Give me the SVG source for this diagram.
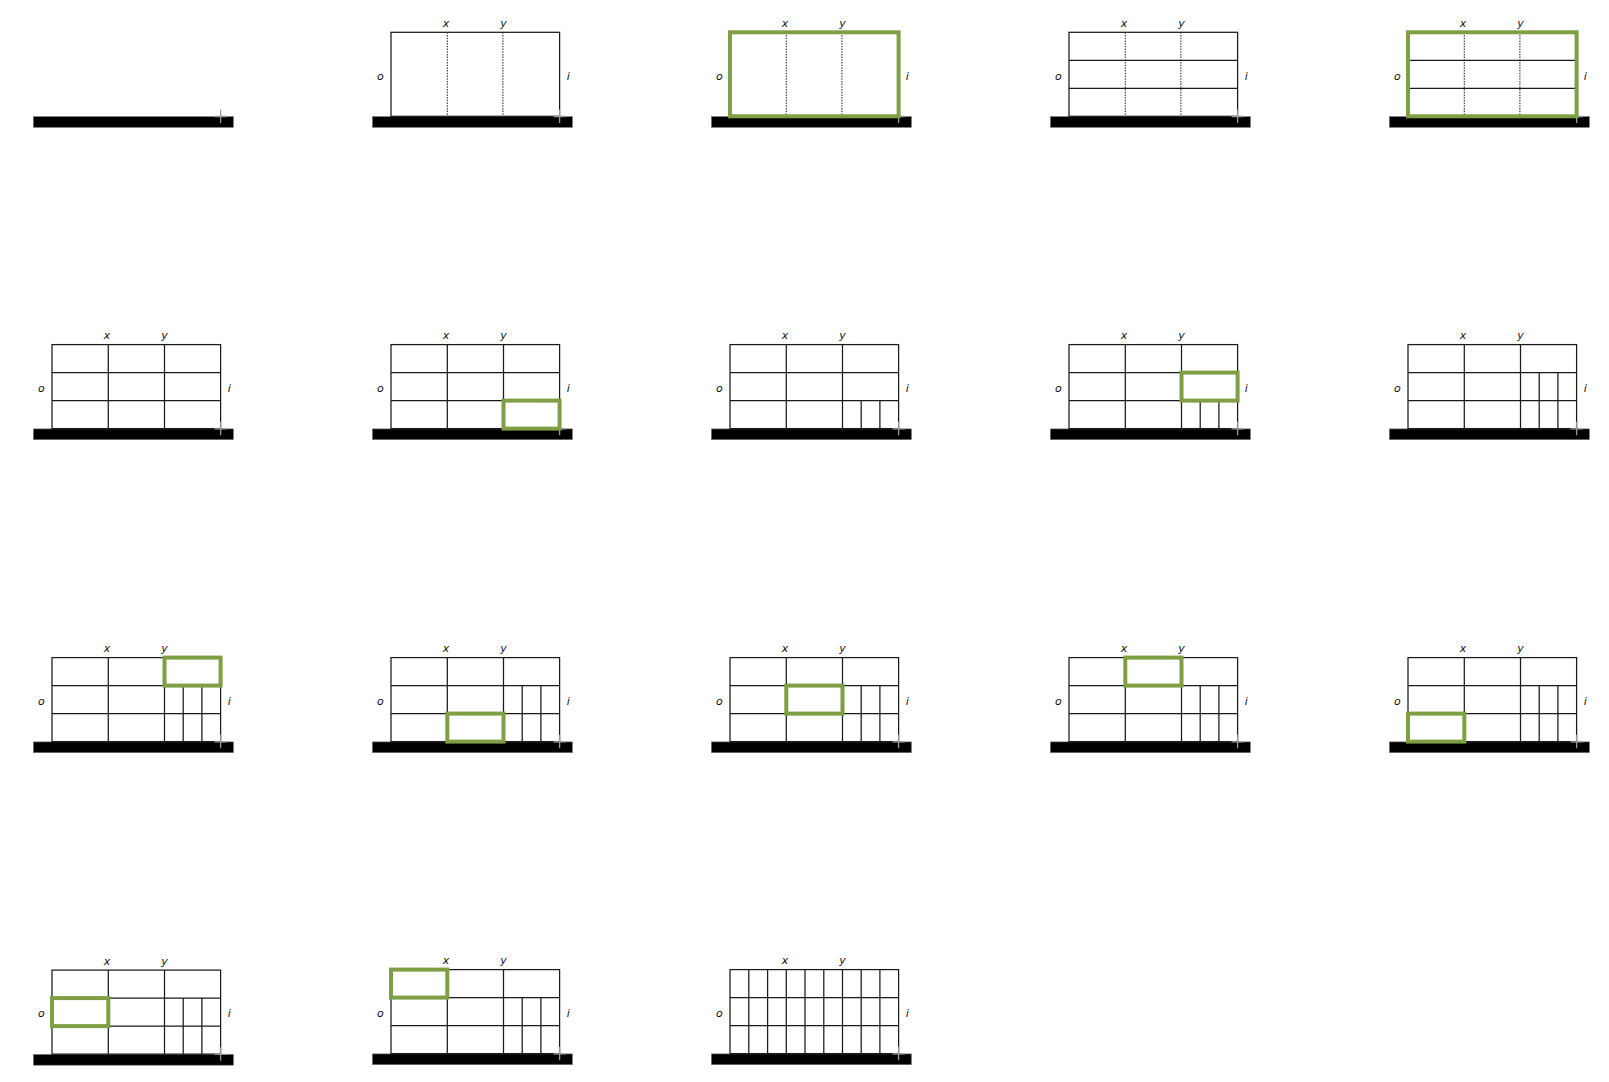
<svg xmlns="http://www.w3.org/2000/svg" width="1609" height="1082" viewBox="0 0 1609 1082">
<style>
.ln{fill:none;stroke:#1a1a1a;stroke-width:1.25}
.dot{fill:none;stroke:#333;stroke-width:1.1;stroke-dasharray:1.5 1.2}
.cross{fill:none;stroke:#999;stroke-width:1.3}
.hi{fill:none;stroke:#7e9f44;stroke-width:4}
.bar{fill:#000;stroke:#777;stroke-width:.6}
.t{font-family:"DejaVu Sans",sans-serif;font-style:italic;font-size:11px;fill:#111;text-anchor:middle;dominant-baseline:central}
</style>
<defs>
<g id="base"><rect class="bar" x="0" y="84.6" width="200" height="10.8"/></g>
<path id="cr" class="cross" d="M187.2 77.5V91M181.2 84.5H193.5"/>
<g id="labels"><text class="t" x="73.5" y="-8.5">x</text><text class="t" x="131" y="-8.5">y</text><text class="t" x="8" y="44">o</text><text class="t" x="196" y="44">i</text></g>
<rect id="frame" class="ln" x="18.6" y="0.3" width="168.6" height="84"/>
<path id="dots" class="dot" d="M74.9 0.3V84.3M130.5 0.3V84.3"/>
<path id="h" class="ln" d="M18.6 28.3H187.2M18.6 56.3H187.2"/>
<path id="v" class="ln" d="M74.9 0.3V84.3M131.1 0.3V84.3"/>
<path id="sub1" class="ln" d="M149.8 56.3V84.3M168.5 56.3V84.3"/>
<path id="sub2" class="ln" d="M149.8 28.3V84.3M168.5 28.3V84.3"/>
</defs>
<g id="connectors"></g>
<g id="p1-1" transform="translate(33.4 32)"><use href="#base"/><use href="#cr"/></g>
<g id="p1-2" transform="translate(372.4 32)"><use href="#base"/><use href="#frame"/><use href="#dots"/><use href="#cr"/><use href="#labels"/></g>
<g id="p1-3" transform="translate(711.4 32)"><use href="#base"/><use href="#frame"/><use href="#dots"/><use href="#cr"/><use href="#labels"/><rect class="hi" x="18.6" y="0.3" width="168.6" height="84"/></g>
<g id="p1-4" transform="translate(1050.4 32)"><use href="#base"/><use href="#frame"/><use href="#dots"/><use href="#h"/><use href="#cr"/><use href="#labels"/></g>
<g id="p1-5" transform="translate(1389.4 32)"><use href="#base"/><use href="#frame"/><use href="#dots"/><use href="#h"/><use href="#cr"/><use href="#labels"/><rect class="hi" x="18.6" y="0.3" width="168.6" height="84"/></g>

<g id="p2-1" transform="translate(33.4 344.3)"><use href="#base"/><use href="#frame"/><use href="#v"/><use href="#h"/><use href="#cr"/><use href="#labels"/></g>
<g id="p2-2" transform="translate(372.4 344.3)"><use href="#base"/><use href="#frame"/><use href="#v"/><use href="#h"/><use href="#cr"/><use href="#labels"/><rect class="hi" x="131.1" y="56.3" width="56.1" height="28"/></g>
<g id="p2-3" transform="translate(711.4 344.3)"><use href="#base"/><use href="#frame"/><use href="#v"/><use href="#h"/><use href="#sub1"/><use href="#cr"/><use href="#labels"/></g>
<g id="p2-4" transform="translate(1050.4 344.3)"><use href="#base"/><use href="#frame"/><use href="#v"/><use href="#h"/><use href="#sub1"/><use href="#cr"/><use href="#labels"/><rect class="hi" x="131.1" y="28.3" width="56.1" height="28"/></g>
<g id="p2-5" transform="translate(1389.4 344.3)"><use href="#base"/><use href="#frame"/><use href="#v"/><use href="#h"/><use href="#sub2"/><use href="#cr"/><use href="#labels"/></g>

<g id="p3-1" transform="translate(33.4 657.3)"><use href="#base"/><use href="#frame"/><use href="#v"/><use href="#h"/><use href="#sub2"/><use href="#cr"/><use href="#labels"/><rect class="hi" x="131.1" y="0.3" width="56.1" height="28"/></g>
<g id="p3-2" transform="translate(372.4 657.3)"><use href="#base"/><use href="#frame"/><use href="#v"/><use href="#h"/><use href="#sub2"/><use href="#cr"/><use href="#labels"/><rect class="hi" x="74.9" y="56.3" width="56.2" height="28"/></g>
<g id="p3-3" transform="translate(711.4 657.3)"><use href="#base"/><use href="#frame"/><use href="#v"/><use href="#h"/><use href="#sub2"/><use href="#cr"/><use href="#labels"/><rect class="hi" x="74.9" y="28.3" width="56.2" height="28"/></g>
<g id="p3-4" transform="translate(1050.4 657.3)"><use href="#base"/><use href="#frame"/><use href="#v"/><use href="#h"/><use href="#sub2"/><use href="#cr"/><use href="#labels"/><rect class="hi" x="74.9" y="0.3" width="56.2" height="28"/></g>
<g id="p3-5" transform="translate(1389.4 657.3)"><use href="#base"/><use href="#frame"/><use href="#v"/><use href="#h"/><use href="#sub2"/><use href="#cr"/><use href="#labels"/><rect class="hi" x="18.6" y="56.3" width="56.3" height="28"/></g>

<g id="p4-1" transform="translate(33.4 969.8)"><use href="#base"/><use href="#frame"/><use href="#v"/><use href="#h"/><use href="#sub2"/><use href="#cr"/><use href="#labels"/><rect class="hi" x="18.6" y="28.3" width="56.3" height="28"/></g>
<g id="p4-2" transform="translate(372.4 969.3)"><use href="#base"/><use href="#frame"/><use href="#v"/><use href="#h"/><use href="#sub2"/><use href="#cr"/><use href="#labels"/><rect class="hi" x="18.6" y="0.3" width="56.3" height="28"/></g>
<g id="p4-3" transform="translate(711.4 969.3)"><use href="#base"/><use href="#frame"/><use href="#v"/><use href="#h"/><path class="ln" d="M37.4 0.3V84.3M56.2 0.3V84.3M93.6 0.3V84.3M112.4 0.3V84.3M149.8 0.3V84.3M168.5 0.3V84.3"/><use href="#cr"/><use href="#labels"/></g>
</svg>
